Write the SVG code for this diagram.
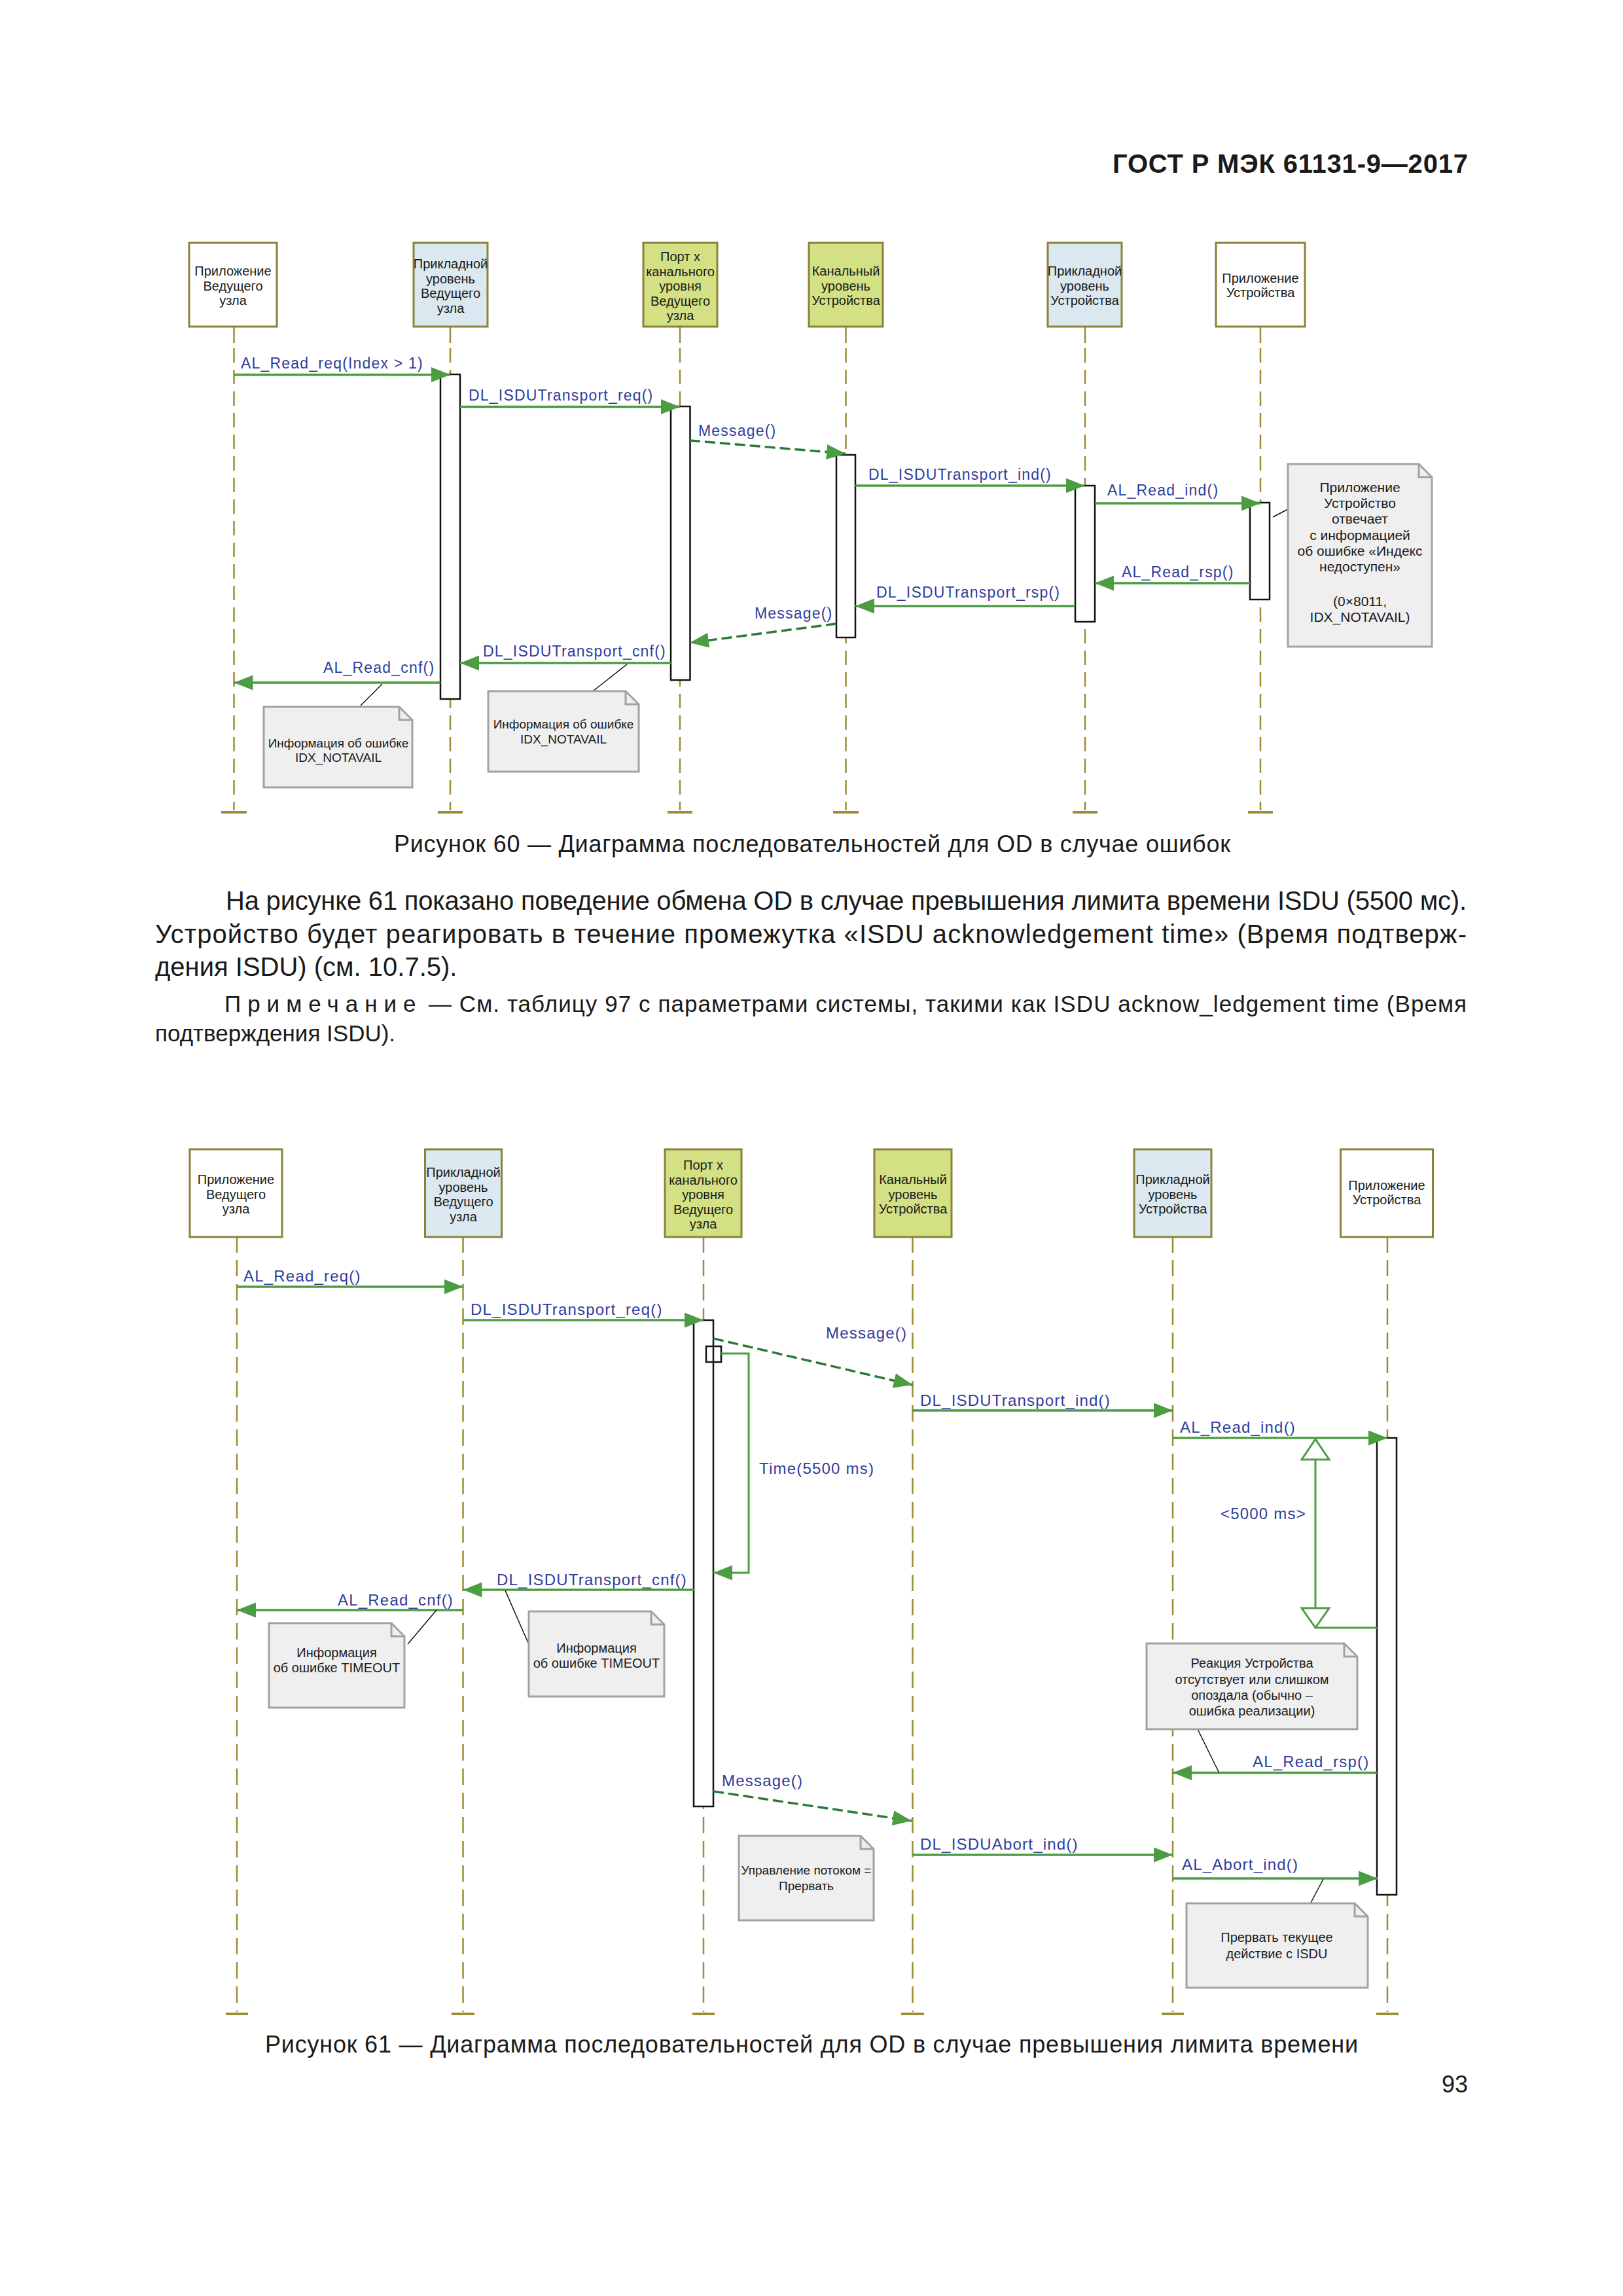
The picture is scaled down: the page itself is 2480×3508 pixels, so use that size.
<svg xmlns="http://www.w3.org/2000/svg" width="2480" height="3508" viewBox="0 0 2480 3508">
<defs>
<style>
.pg{font-family:"Liberation Sans",Arial,sans-serif;fill:#1a1a1a}
.hdr{font-family:"Liberation Sans",Arial,sans-serif;font-weight:bold;font-size:40px;fill:#1a1a1a}
.cap{font-family:"Liberation Sans",Arial,sans-serif;font-size:36px;fill:#1a1a1a;text-anchor:middle}
.body{font-family:"Liberation Sans",Arial,sans-serif;font-size:40px;fill:#1a1a1a}
.nt{font-family:"Liberation Sans",Arial,sans-serif;font-size:35px;fill:#1a1a1a}
.box{stroke:#8a8238;stroke-width:3}
.wht{fill:#ffffff}
.blu{fill:#dbe8ef}
.grn{fill:#d3e084}
.bt{font-family:"Liberation Sans",Arial,sans-serif;font-size:20px;fill:#1a1a1a;text-anchor:middle}
.life{stroke:#9b8d33;stroke-width:2.5;fill:none}
.dash1{stroke-dasharray:22 11}
.dash2{stroke-dasharray:25 12}
.tick{stroke:#9b8d33;stroke-width:4}
.bar{fill:#ffffff;stroke:#111111;stroke-width:2.5}
.msg{stroke:#4c9c42;stroke-width:3.5;fill:none;marker-end:url(#ah)}
.ret{stroke:#2a7a3a;stroke-width:3.5;fill:none;stroke-dasharray:16 7;marker-end:url(#ah)}
.lb1{font-family:"Liberation Sans",Arial,sans-serif;font-size:23px;letter-spacing:1.2px;fill:#2f3d9c}
.lb2{font-family:"Liberation Sans",Arial,sans-serif;font-size:24px;letter-spacing:1.2px;fill:#2f3d9c}
.note{fill:#efefef;stroke:#a2a2a2;stroke-width:3}
.fold{fill:none;stroke:#a2a2a2;stroke-width:3}
.nx{font-family:"Liberation Sans",Arial,sans-serif;font-size:19px;fill:#1a1a1a;text-anchor:middle}
.nx2{font-family:"Liberation Sans",Arial,sans-serif;font-size:20px;fill:#1a1a1a;text-anchor:middle}
.nx3{font-family:"Liberation Sans",Arial,sans-serif;font-size:21px;fill:#1a1a1a;text-anchor:middle}
.lnk{stroke:#111111;stroke-width:1.5;fill:none}
.dur{stroke:#4c9c42;stroke-width:3;fill:none}
</style>
<marker id="ah" markerUnits="userSpaceOnUse" markerWidth="30" markerHeight="24" refX="29" refY="11.5" orient="auto" viewBox="0 0 30 24">
<path d="M0,0 L29,11.5 L0,23 Z" fill="#4c9c42"/>
</marker>
</defs>
<rect width="2480" height="3508" fill="#ffffff"/>

<text class="hdr" x="1700" y="264" textLength="543" lengthAdjust="spacing">ГОСТ Р МЭК 61131-9—2017</text>

<!-- ===== Figure 60 ===== -->
<g id="fig60">
<g id="f60-lifelines">
<line class="life" x1="357.5" y1="499" x2="357.5" y2="524"/><line class="life dash1" x1="357.5" y1="532" x2="357.5" y2="1238"/><line class="tick" x1="338" y1="1241" x2="377" y2="1241"/>
<line class="life" x1="688" y1="499" x2="688" y2="524"/><line class="life dash1" x1="688" y1="532" x2="688" y2="1238"/><line class="tick" x1="669" y1="1241" x2="707" y2="1241"/>
<line class="life" x1="1039" y1="499" x2="1039" y2="524"/><line class="life dash1" x1="1039" y1="532" x2="1039" y2="1238"/><line class="tick" x1="1020" y1="1241" x2="1058" y2="1241"/>
<line class="life" x1="1292.5" y1="499" x2="1292.5" y2="524"/><line class="life dash1" x1="1292.5" y1="532" x2="1292.5" y2="1238"/><line class="tick" x1="1273" y1="1241" x2="1312" y2="1241"/>
<line class="life" x1="1658" y1="499" x2="1658" y2="524"/><line class="life dash1" x1="1658" y1="532" x2="1658" y2="1238"/><line class="tick" x1="1639" y1="1241" x2="1677" y2="1241"/>
<line class="life" x1="1926" y1="499" x2="1926" y2="524"/><line class="life dash1" x1="1926" y1="532" x2="1926" y2="1238"/><line class="tick" x1="1907" y1="1241" x2="1945" y2="1241"/>
</g>
<g id="f60-n1"><rect class="box wht" x="289" y="371" width="134" height="128"/>
<text class="bt" x="356"><tspan x="356" y="421">Приложение</tspan><tspan x="356" y="444">Ведущего</tspan><tspan x="356" y="466">узла</tspan></text></g>
<g id="f60-n2"><rect class="box blu" x="632" y="371" width="113" height="128"/>
<text class="bt"><tspan x="688.5" y="410">Прикладной</tspan><tspan x="688.5" y="433">уровень</tspan><tspan x="688.5" y="455">Ведущего</tspan><tspan x="688.5" y="478">узла</tspan></text></g>
<g id="f60-n3"><rect class="box grn" x="983" y="371" width="113" height="128"/>
<text class="bt"><tspan x="1039.5" y="399">Порт х</tspan><tspan x="1039.5" y="422">канального</tspan><tspan x="1039.5" y="444">уровня</tspan><tspan x="1039.5" y="467">Ведущего</tspan><tspan x="1039.5" y="489">узла</tspan></text></g>
<g id="f60-n4"><rect class="box grn" x="1236" y="371" width="113" height="128"/>
<text class="bt"><tspan x="1292.5" y="421">Канальный</tspan><tspan x="1292.5" y="444">уровень</tspan><tspan x="1292.5" y="466">Устройства</tspan></text></g>
<g id="f60-n5"><rect class="box blu" x="1601" y="371" width="113" height="128"/>
<text class="bt"><tspan x="1657.5" y="421">Прикладной</tspan><tspan x="1657.5" y="444">уровень</tspan><tspan x="1657.5" y="466">Устройства</tspan></text></g>
<g id="f60-n6"><rect class="box wht" x="1858" y="371" width="136" height="128"/>
<text class="bt"><tspan x="1926" y="432">Приложение</tspan><tspan x="1926" y="454">Устройства</tspan></text></g>

<g id="f60-bars">
<rect class="bar" x="673" y="572" width="30" height="496"/>
<rect class="bar" x="1025" y="621" width="29.5" height="418"/>
<rect class="bar" x="1278" y="695" width="29" height="279"/>
<rect class="bar" x="1643" y="742" width="30" height="208"/>
<rect class="bar" x="1910" y="768" width="30" height="148"/>
</g>

<g id="f60-connectors">
<line class="msg" x1="357.5" y1="572.5" x2="688" y2="572.5"/>
<line class="msg" x1="703" y1="621.5" x2="1039" y2="621.5"/>
<line class="ret" x1="1054" y1="673" x2="1292" y2="693"/>
<line class="msg" x1="1307" y1="742" x2="1657.5" y2="742"/>
<line class="msg" x1="1673" y1="769" x2="1926" y2="769"/>
<line class="msg" x1="1910" y1="891" x2="1673" y2="891"/>
<line class="msg" x1="1643" y1="926" x2="1307" y2="926"/>
<line class="ret" x1="1278" y1="953" x2="1054" y2="982"/>
<line class="msg" x1="1025" y1="1013" x2="703" y2="1013"/>
<line class="msg" x1="673" y1="1043" x2="357.5" y2="1043"/>
<line class="lnk" x1="584" y1="1045" x2="551" y2="1078"/>
<line class="lnk" x1="958" y1="1015" x2="906" y2="1056"/>
<line class="lnk" x1="1945" y1="790" x2="1968" y2="778"/>
</g>
<g id="f60-labels">
<text class="lb1" x="368" y="563">AL_Read_req(Index &gt; 1)</text>
<text class="lb1" x="716" y="612">DL_ISDUTransport_req()</text>
<text class="lb1" x="1067" y="666">Message()</text>
<text class="lb1" x="1327" y="733">DL_ISDUTransport_ind()</text>
<text class="lb1" x="1692" y="757">AL_Read_ind()</text>
<text class="lb1" x="1714" y="882">AL_Read_rsp()</text>
<text class="lb1" x="1339" y="913">DL_ISDUTransport_rsp()</text>
<text class="lb1" x="1153" y="945">Message()</text>
<text class="lb1" x="738" y="1003">DL_ISDUTransport_cnf()</text>
<text class="lb1" x="494" y="1028">AL_Read_cnf()</text>
</g>

<g id="f60-noteA">
<path class="note" d="M403,1080 H610 L630,1100 V1203 H403 Z"/><path class="fold" d="M610,1080 V1100 H630"/>
<text class="nx"><tspan x="517" y="1142">Информация об ошибке</tspan><tspan x="517" y="1164">IDX_NOTAVAIL</tspan></text>
</g>
<g id="f60-noteB">
<path class="note" d="M746,1056 H956 L976,1076 V1179 H746 Z"/><path class="fold" d="M956,1056 V1076 H976"/>
<text class="nx"><tspan x="861" y="1113">Информация об ошибке</tspan><tspan x="861" y="1136">IDX_NOTAVAIL</tspan></text>
</g>
<g id="f60-noteC">
<path class="note" d="M1968,709 H2168 L2188,729 V988 H1968 Z"/><path class="fold" d="M2168,709 V729 H2188"/>
<text class="nx3"><tspan x="2078" y="752">Приложение</tspan><tspan x="2078" y="776">Устройство</tspan><tspan x="2078" y="800">отвечает</tspan><tspan x="2078" y="825">с информацией</tspan><tspan x="2078" y="849">об ошибке «Индекс</tspan><tspan x="2078" y="873">недоступен»</tspan><tspan x="2078" y="926">(0×8011,</tspan><tspan x="2078" y="950">IDX_NOTAVAIL)</tspan></text>
</g>
</g>

<text class="cap" x="1241" y="1302" textLength="1278" lengthAdjust="spacing">Рисунок 60 — Диаграмма последовательностей для OD в случае ошибок</text>

<text class="body" x="345" y="1390" textLength="1896" lengthAdjust="spacing">На рисунке 61 показано поведение обмена OD в случае превышения лимита времени ISDU (5500 мс).</text>
<text class="body" x="237" y="1441" textLength="2004" lengthAdjust="spacing">Устройство будет реагировать в течение промежутка «ISDU acknowledgement time» (Время подтверж-</text>
<text class="body" x="237" y="1491">дения ISDU) (см. 10.7.5).</text>
<text class="nt" x="343" y="1546" letter-spacing="10">Примечание</text>
<text class="nt" x="655" y="1546" textLength="1586" lengthAdjust="spacing">—  См. таблицу 97 с параметрами системы, такими как ISDU acknow_ledgement time (Время</text>
<text class="nt" x="237" y="1591">подтверждения ISDU).</text>

<!-- ===== Figure 61 ===== -->
<g id="fig61">
<g id="f61-lifelines">
<line class="life" x1="362" y1="1890" x2="362" y2="1914"/><line class="life dash2" x1="362" y1="1925" x2="362" y2="3074"/><line class="tick" x1="345" y1="3077" x2="379" y2="3077"/>
<line class="life" x1="707.5" y1="1890" x2="707.5" y2="1914"/><line class="life dash2" x1="707.5" y1="1925" x2="707.5" y2="3074"/><line class="tick" x1="690" y1="3077" x2="725" y2="3077"/>
<line class="life" x1="1075" y1="1890" x2="1075" y2="1914"/><line class="life dash2" x1="1075" y1="1925" x2="1075" y2="3074"/><line class="tick" x1="1058" y1="3077" x2="1092" y2="3077"/>
<line class="life" x1="1394.5" y1="1890" x2="1394.5" y2="1914"/><line class="life dash2" x1="1394.5" y1="1925" x2="1394.5" y2="3074"/><line class="tick" x1="1377" y1="3077" x2="1412" y2="3077"/>
<line class="life" x1="1792" y1="1890" x2="1792" y2="1914"/><line class="life dash2" x1="1792" y1="1925" x2="1792" y2="3074"/><line class="tick" x1="1775" y1="3077" x2="1809" y2="3077"/>
<line class="life" x1="2120" y1="1890" x2="2120" y2="1914"/><line class="life dash2" x1="2120" y1="1925" x2="2120" y2="3074"/><line class="tick" x1="2103" y1="3077" x2="2137" y2="3077"/>
</g>
<g id="f61-n1"><rect class="box wht" x="290" y="1756" width="141" height="134"/>
<text class="bt"><tspan x="360.5" y="1809">Приложение</tspan><tspan x="360.5" y="1832">Ведущего</tspan><tspan x="360.5" y="1854">узла</tspan></text></g>
<g id="f61-n2"><rect class="box blu" x="649.5" y="1756" width="117" height="134"/>
<text class="bt"><tspan x="708" y="1798">Прикладной</tspan><tspan x="708" y="1821">уровень</tspan><tspan x="708" y="1843">Ведущего</tspan><tspan x="708" y="1866">узла</tspan></text></g>
<g id="f61-n3"><rect class="box grn" x="1016" y="1756" width="117" height="134"/>
<text class="bt"><tspan x="1074.5" y="1787">Порт х</tspan><tspan x="1074.5" y="1810">канального</tspan><tspan x="1074.5" y="1832">уровня</tspan><tspan x="1074.5" y="1855">Ведущего</tspan><tspan x="1074.5" y="1877">узла</tspan></text></g>
<g id="f61-n4"><rect class="box grn" x="1336" y="1756" width="118" height="134"/>
<text class="bt"><tspan x="1395" y="1809">Канальный</tspan><tspan x="1395" y="1832">уровень</tspan><tspan x="1395" y="1854">Устройства</tspan></text></g>
<g id="f61-n5"><rect class="box blu" x="1733" y="1756" width="118" height="134"/>
<text class="bt"><tspan x="1792" y="1809">Прикладной</tspan><tspan x="1792" y="1832">уровень</tspan><tspan x="1792" y="1854">Устройства</tspan></text></g>
<g id="f61-n6"><rect class="box wht" x="2048.5" y="1756" width="141" height="134"/>
<text class="bt"><tspan x="2119" y="1818">Приложение</tspan><tspan x="2119" y="1840">Устройства</tspan></text></g>

<g id="f61-bars">
<rect class="bar" x="1060" y="2017" width="30" height="743"/>
<rect class="bar" x="2104" y="2197" width="30" height="698"/>
<rect x="1079" y="2057" width="23" height="24" fill="none" stroke="#111111" stroke-width="2.5"/>
</g>

<g id="f61-connectors">
<line class="msg" x1="362" y1="1966" x2="707.5" y2="1966"/>
<line class="msg" x1="707.5" y1="2017" x2="1075" y2="2017"/>
<polyline class="msg" style="stroke-width:3" points="1102,2068 1144,2068 1144,2403 1090,2403"/>
<line class="ret" x1="1090" y1="2045" x2="1394.5" y2="2116"/>
<line class="msg" x1="1394.5" y1="2155" x2="1792" y2="2155"/>
<line class="msg" x1="1792" y1="2197" x2="2120" y2="2197"/>
<polygon class="dur" points="2010,2199 1989,2230 2031,2230" fill="#ffffff"/>
<line class="dur" x1="2010" y1="2230" x2="2010" y2="2457"/>
<polygon class="dur" points="1989,2457 2031,2457 2010,2487" fill="#ffffff"/>
<line class="dur" x1="2010" y1="2487" x2="2104" y2="2487"/>
<line class="msg" x1="1060" y1="2429" x2="707.5" y2="2429"/>
<line class="msg" x1="707.5" y1="2460" x2="362" y2="2460"/>
<line class="msg" x1="2104" y1="2708.5" x2="1792" y2="2708.5"/>
<line class="ret" x1="1090" y1="2737" x2="1393" y2="2782"/>
<line class="msg" x1="1394.5" y1="2834" x2="1792" y2="2834"/>
<line class="msg" x1="1792" y1="2870" x2="2105" y2="2870"/>
<line class="lnk" x1="667" y1="2460" x2="623" y2="2512"/>
<line class="lnk" x1="772" y1="2430" x2="807" y2="2510"/>
<line class="lnk" x1="1830" y1="2642" x2="1862.5" y2="2708"/>
<line class="lnk" x1="2022" y1="2871" x2="2002.5" y2="2908"/>
</g>
<g id="f61-labels">
<text class="lb2" x="372" y="1958">AL_Read_req()</text>
<text class="lb2" x="719" y="2009">DL_ISDUTransport_req()</text>
<text class="lb2" x="1262" y="2045">Message()</text>
<text class="lb2" x="1160" y="2252">Time(5500 ms)</text>
<text class="lb2" x="1406" y="2148">DL_ISDUTransport_ind()</text>
<text class="lb2" x="1803" y="2189">AL_Read_ind()</text>
<text class="lb2" x="1865" y="2321">&lt;5000 ms&gt;</text>
<text class="lb2" x="759" y="2422">DL_ISDUTransport_cnf()</text>
<text class="lb2" x="516" y="2453">AL_Read_cnf()</text>
<text class="lb2" x="1914" y="2700">AL_Read_rsp()</text>
<text class="lb2" x="1103" y="2729">Message()</text>
<text class="lb2" x="1406" y="2826">DL_ISDUAbort_ind()</text>
<text class="lb2" x="1806" y="2857">AL_Abort_ind()</text>
</g>

<g id="f61-noteD">
<path class="note" d="M411,2480 H598 L618,2500 V2609 H411 Z"/><path class="fold" d="M598,2480 V2500 H618"/>
<text class="nx2"><tspan x="514.5" y="2532">Информация</tspan><tspan x="514.5" y="2555">об ошибке TIMEOUT</tspan></text>
</g>
<g id="f61-noteE">
<path class="note" d="M808,2462 H995 L1015,2482 V2592 H808 Z"/><path class="fold" d="M995,2462 V2482 H1015"/>
<text class="nx2"><tspan x="911.5" y="2525">Информация</tspan><tspan x="911.5" y="2548">об ошибке TIMEOUT</tspan></text>
</g>
<g id="f61-noteF">
<path class="note" d="M1752,2511 H2054 L2074,2531 V2642 H1752 Z"/><path class="fold" d="M2054,2511 V2531 H2074"/>
<text class="nx2"><tspan x="1913" y="2548">Реакция Устройства</tspan><tspan x="1913" y="2573">отсутствует или слишком</tspan><tspan x="1913" y="2597">опоздала (обычно –</tspan><tspan x="1913" y="2621">ошибка реализации)</tspan></text>
</g>
<g id="f61-noteG">
<path class="note" d="M1129,2805 H1315 L1335,2825 V2934 H1129 Z"/><path class="fold" d="M1315,2805 V2825 H1335"/>
<text class="nx"><tspan x="1232" y="2864">Управление потоком =</tspan><tspan x="1232" y="2888">Прервать</tspan></text>
</g>
<g id="f61-noteH">
<path class="note" d="M1813,2908 H2070 L2090,2928 V3037 H1813 Z"/><path class="fold" d="M2070,2908 V2928 H2090"/>
<text class="nx2"><tspan x="1951" y="2967">Прервать текущее</tspan><tspan x="1951" y="2992">действие с ISDU</tspan></text>
</g>
</g>

<text class="cap" x="1240" y="3136" textLength="1670" lengthAdjust="spacing">Рисунок 61 — Диаграмма последовательностей для OD в случае превышения лимита времени</text>
<text class="pg" x="2243" y="3197" font-size="36" text-anchor="end">93</text>
</svg>
